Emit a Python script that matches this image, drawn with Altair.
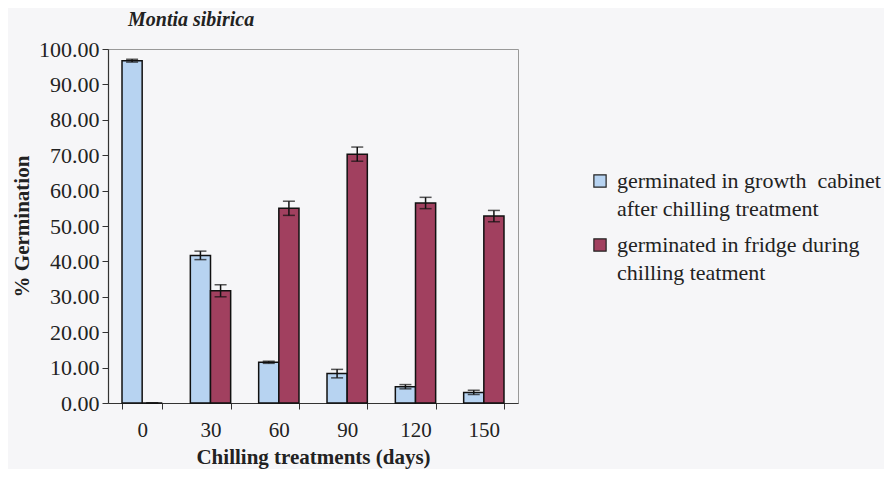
import altair as alt
import pandas as pd

days = ["0", "30", "60", "90", "120", "150"]
cabinet = [96.7, 41.7, 11.5, 8.3, 4.6, 3.0]
cabinet_err = [0.4, 1.2, 0.3, 1.2, 0.6, 0.6]
fridge = [0.0, 31.7, 55.0, 70.3, 56.5, 52.8]
fridge_err = [0.0, 1.7, 2.0, 2.0, 1.6, 1.6]
series = ["germinated in growth\u00a0\u00a0cabinet|after chilling treatment",
          "germinated in fridge during|chilling teatment"]
colors = ["#b7d3f1", "#a1405f"]
y_ticks = [0, 10, 20, 30, 40, 50, 60, 70, 80, 90, 100]

rows = []
for i, d in enumerate(days):
    rows.append({"day": d, "series": series[0], "v": cabinet[i],
                 "lo": cabinet[i] - cabinet_err[i], "hi": cabinet[i] + cabinet_err[i]})
    rows.append({"day": d, "series": series[1], "v": fridge[i],
                 "lo": fridge[i] - fridge_err[i], "hi": fridge[i] + fridge_err[i]})
df = pd.DataFrame(rows)

font = "Liberation Serif"

x = alt.X("day:N", sort=days, title="Chilling treatments (days)",
          scale=alt.Scale(paddingInner=0.41, paddingOuter=0.205),
          axis=alt.Axis(labelAngle=0, tickBand="extent", labelFontSize=21,
                        labelFont=font, labelColor="#222", labelPadding=10,
                        titleFontSize=21, titleFont=font, titleFontWeight="bold",
                        titleColor="#222", titleBaseline="alphabetic", titleY=60,
                        tickSize=6,
                        domainColor="#333", tickColor="#333", domainWidth=1.2))
xo = alt.XOffset("series:N", sort=series)

yaxis = alt.Axis(values=y_ticks, format=".2f", labelOverlap=False,
                 labelFontSize=22, labelFont=font, labelColor="#222",
                 labelPadding=3, tickSize=6, grid=False,
                 titleFontSize=21, titleFont=font, titleFontWeight="bold",
                 titleColor="#222", titlePadding=6,
                 domainColor="#333", tickColor="#333", domainWidth=1.2)
yscale = alt.Scale(domain=[0, 100])

base = alt.Chart(df)

bars = base.mark_bar(stroke="#111", strokeWidth=1.5).encode(
    x=x, xOffset=xo,
    y=alt.Y("v:Q", title="% Germination", scale=yscale, axis=yaxis),
    color=alt.Color("series:N", sort=series,
                    scale=alt.Scale(domain=series, range=colors),
                    legend=alt.Legend(title=None, orient="none", legendX=481, legendY=121,
                                      labelExpr="split(datum.label, '|')",
                                      labelFont=font, labelFontSize=22, labelColor="#222",
                                      symbolType="square", symbolSize=150,
                                      symbolStrokeColor="#222", symbolStrokeWidth=1.2,
                                      rowPadding=14, labelOffset=6, labelLimit=400)),
)

rules = base.mark_rule(color="#111", strokeWidth=1.5).encode(
    x=x, xOffset=xo,
    y=alt.Y("lo:Q", title="% Germination", scale=yscale, axis=yaxis), y2="hi:Q")
caps_hi = base.mark_tick(color="#111", thickness=1.5, size=12).encode(
    x=x, xOffset=xo, y=alt.Y("hi:Q", title="% Germination", scale=yscale, axis=yaxis))
caps_lo = base.mark_tick(color="#111", thickness=1.5, size=12).encode(
    x=x, xOffset=xo, y=alt.Y("lo:Q", title="% Germination", scale=yscale, axis=yaxis))

chart = alt.layer(bars, rules, caps_hi, caps_lo).properties(
    width=410, height=354,
    title=alt.TitleParams("Montia sibirica", anchor="start", frame="group", font=font,
                          fontSize=20, fontStyle="italic", fontWeight="bold",
                          color="#222", dx=20, offset=8),
    autosize=alt.AutoSizeParams(type="none"),
    padding={"left": 100, "top": 41, "right": 366, "bottom": 66},
    background="#f6f6f8",
).configure(style={"guide-label": {"lineHeight": 28}}).configure_view(stroke="#999", strokeWidth=1)

chart.save("out.html", embed_options={"renderer": "svg", "actions": False})
